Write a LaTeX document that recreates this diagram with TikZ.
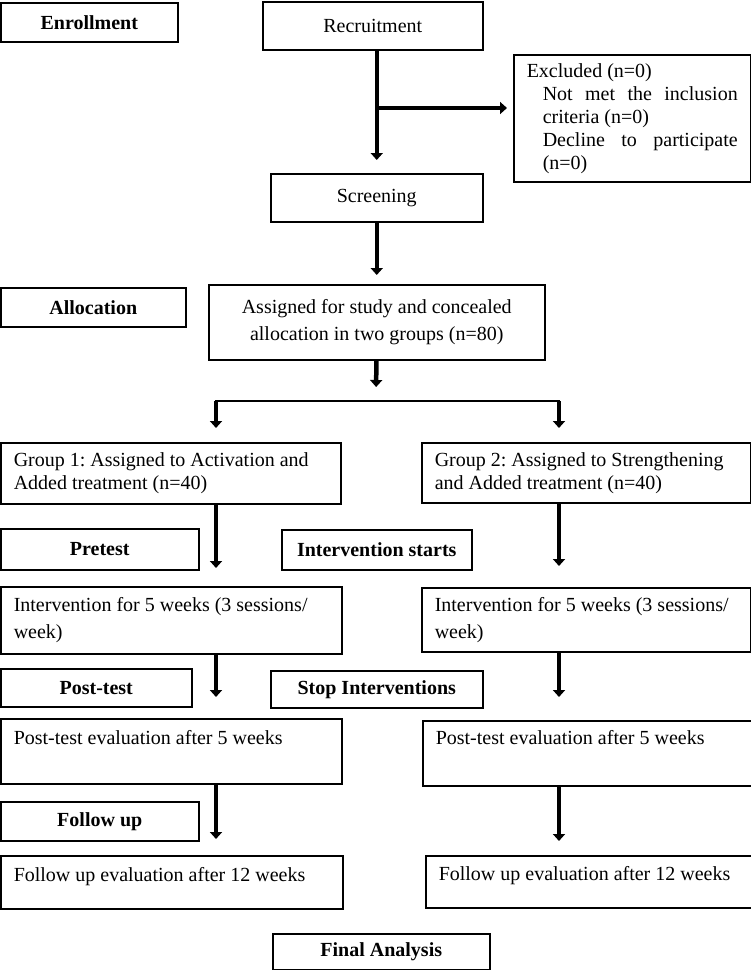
\documentclass[tikz,border=0pt]{standalone}
\usepackage{fontspec}
\setmainfont{Liberation Serif}
\usetikzlibrary{arrows.meta,positioning}
\tikzset{
	box/.style={draw, line width=1.5pt, rectangle, anchor=north west, inner xsep=13pt, inner ysep=0pt, font=\fontsize{20}{23}\selectfont, align=left,
		execute at begin node={\spaceskip=0pt\xspaceskip=0pt\relax}},
	spaced/.style={font=\fontsize{20}{27}\selectfont},
	cbox/.style={box, align=center},
	lbl/.style={box, align=center, font=\fontsize{20}{23}\selectfont\bfseries},
	arr/.style={line width=4.5pt, -{Triangle[width=12pt,length=7pt]}},
	bar/.style={line width=2.5pt, line cap=rect}
}
\frenchspacing

\begin{document}
\begin{tikzpicture}[x=1pt,y=-1pt]
		%%%%% START %%%%%
		\useasboundingbox (0,0) rectangle (751,970);
		
		\node[lbl, minimum width=177pt, minimum height=39pt] (enroll) at (0,2) {Enrollment};
		\node[cbox, minimum width=220pt, minimum height=48pt] (recruit) at (262,1) {Recruitment};
		\node[box, minimum width=237pt, minimum height=127pt, text width=211pt] (excl) at (513,54) {Excluded (n=0)\\
			\hspace*{16pt}Not\hfill met\hfill the\hfill inclusion\\
			\hspace*{16pt}criteria (n=0)\\
			\hspace*{16pt}Decline\hfill to\hfill participate\\
			\hspace*{16pt}(n=0)};
		\node[cbox, minimum width=212pt, minimum height=48pt] (screen) at (270,173) {Screening};
		
		\node[lbl, minimum width=185pt, minimum height=39pt] (alloc) at (0,287) {Allocation};
		\node[cbox, spaced, minimum width=336pt, minimum height=75pt] (assign) at (208,284) {Assigned for study and concealed\\allocation in two groups (n=80)};
		
		\coordinate (brk) at (377,108);
		\coordinate (split) at (376,401);
		\coordinate (splitL) at (216,401);
		\coordinate (splitR) at (559,401);
		
		\node[box, minimum width=340pt, minimum height=61pt, text width=314pt] (g1) at (0,442) {Group 1: Assigned to Activation and\\Added treatment (n=40)};
		\node[box, minimum width=329pt, minimum height=60pt, text width=303pt] (g2) at (421,442) {Group 2: Assigned to Strengthening\\and Added treatment (n=40)};
		
		\node[lbl, minimum width=198pt, minimum height=41pt] (pre) at (0,528) {Pretest};
		\node[lbl, minimum width=190pt, minimum height=40pt] (istart) at (281,529) {Intervention starts};
		
		\node[box, spaced, minimum width=341pt, minimum height=67pt, text width=315pt] (int1) at (0,586) {Intervention for 5 weeks (3 sessions/\\week)};
		\node[box, spaced, minimum width=329pt, minimum height=64pt, text width=303pt] (int2) at (421,587) {Intervention for 5 weeks (3 sessions/\\week)};
		
		\node[lbl, minimum width=191pt, minimum height=38pt] (post) at (0,668) {Post-test};
		\node[lbl, minimum width=212pt, minimum height=37pt] (istop) at (270,670) {Stop Interventions};
		
		\node[box, minimum width=341pt, minimum height=65pt, text width=315pt, text height=14pt, text depth=27pt] (post1) at (0,718) {Post-test evaluation after 5 weeks};
		\node[box, minimum width=329pt, minimum height=65pt, text width=303pt, text height=14pt, text depth=31pt] (post2) at (422,720) {Post-test evaluation after 5 weeks};
		
		\node[lbl, minimum width=198pt, minimum height=39pt] (follow) at (0,801) {Follow up};
		
		\node[box, minimum width=342pt, minimum height=53pt, text width=316pt, text height=14pt, text depth=16pt] (fu1) at (0,855) {Follow up evaluation after 12 weeks};
		\node[box, minimum width=326pt, minimum height=52pt, text width=300pt, text height=14pt, text depth=16pt] (fu2) at (425,855) {Follow up evaluation after 12 weeks};
		
		\node[lbl, minimum width=217pt, minimum height=36pt] (final) at (272,933) {Final Analysis};
		
		% arrows
		\draw[arr, shorten >=13pt] (recruit.south -| screen.north) -- (screen.north);
		\draw[arr, shorten >=6pt] (brk) -- (brk -| excl.west);
		\draw[arr, shorten >=9pt] (screen) -- (assign);
		\draw[arr, shorten >=14pt] (assign) -- (split);
		\draw[bar] (splitL) -- (splitR);
		\draw[arr, shorten >=14pt] (splitL) -- (g1.north -| splitL);
		\draw[arr, shorten >=14pt] (splitR) -- (g2.north -| splitR);
		\draw[arr, shorten >=18pt] (g1.south -| splitL) -- (int1.north -| splitL);
		\draw[arr, shorten >=21pt] (g2.south -| splitR) -- (int2.north -| splitR);
		\draw[arr, shorten >=21pt] (int1.south -| splitL) -- (post1.north -| splitL);
		\draw[arr, shorten >=23pt] (int2.south -| splitR) -- (post2.north -| splitR);
		\draw[arr, shorten >=16pt] (post1.south -| splitL) -- (fu1.north -| splitL);
		\draw[arr, shorten >=14pt] (post2.south -| splitR) -- (fu2.north -| splitR);
		
		%%%%% END %%%%%
\end{tikzpicture}
\end{document}
